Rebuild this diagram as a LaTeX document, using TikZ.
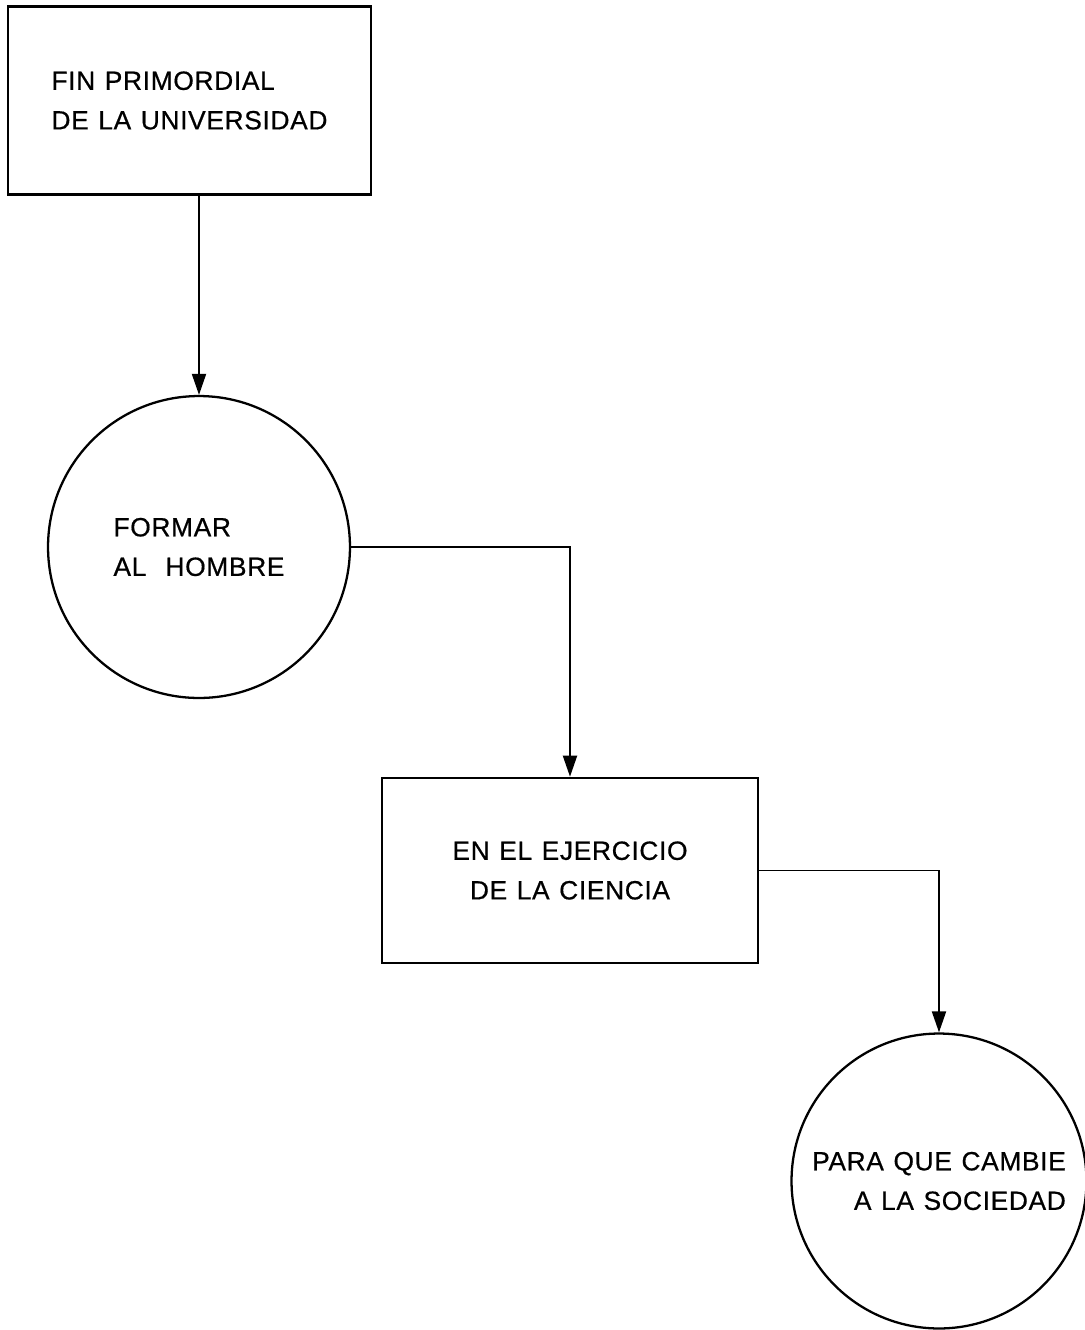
\documentclass[tikz,border=0pt]{standalone}
\usepackage{fontspec}
\setmainfont[LetterSpace=2.5, WordSpace=1.2, FakeBold=0.6]{Liberation Sans}
\usetikzlibrary{arrows.meta, positioning}

\begin{document}
\begin{tikzpicture}[x=0.02cm, y=-0.02cm,
  font=\fontsize{15}{22.5}\selectfont,
  caja/.style={draw, line width=1.5pt, rectangle, inner sep=0pt},
  circulo/.style={draw, line width=1.3pt, circle, inner sep=0pt},
  flecha/.style={line width=1.1pt, -{Triangle[length=12pt, width=8pt]}}]
\useasboundingbox (0,0) rectangle (1085,1330);

% Cajas y circulos
\node[caja, minimum width=7.26cm, minimum height=3.76cm, align=left] (fin) at (189.5,100.5)
  {FIN PRIMORDIAL\\DE LA UNIVERSIDAD};
\node[circulo, minimum size=6.04cm, align=left] (formar) at (199,547)
  {FORMAR\\AL\ \ HOMBRE};
\node[caja, minimum width=7.52cm, minimum height=3.7cm, align=center] (ciencia) at (570,870.5)
  {EN EL EJERCICIO\\DE LA CIENCIA};
\node[circulo, minimum size=5.9cm, align=right] (sociedad) at (939,1181)
  {PARA QUE CAMBIE\\A\ LA SOCIEDAD};

% Conectores
\draw[flecha] (fin.south -| formar.north) -- (formar.north);
\draw[flecha] (formar.east) -| (ciencia.north);
\draw[flecha] (ciencia.east) -| (sociedad.north);
\end{tikzpicture}
\end{document}
